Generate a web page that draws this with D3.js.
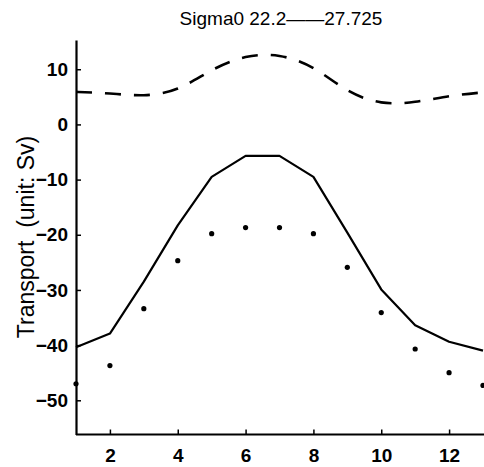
<!DOCTYPE html>
<html>
<head>
<meta charset="utf-8">
<script src="https://cdn.jsdelivr.net/npm/d3@7"></script>
<style>
  body { margin: 0; background: #fff; }
  svg { display: block; font-family: "Liberation Sans", Arial, sans-serif; }
</style>
</head>
<body>
<div id="chart"></div>
<script>
const months = [1, 2, 3, 4, 5, 6, 7, 8, 9, 10, 11, 12, 13];
const solidValues = [-40.4, -37.9, -28.5, -18.3, -9.5, -5.7, -5.7, -9.5, -19.6, -29.9, -36.4, -39.4, -41.0];
const dotValues = [-47.0, -43.7, -33.4, -24.7, -19.8, -18.7, -18.7, -19.8, -25.9, -34.1, -40.7, -45.0, -47.3];
const dashedValues = [5.9, 5.6, 5.3, 6.5, 9.8, 12.2, 12.4, 10.2, 6.2, 4.0, 4.1, 5.1, 5.8];
const xTicks = [2, 4, 6, 8, 10, 12];
const yTicks = [10, 0, -10, -20, -30, -40, -50];

const width = 484,
  height = 467;

const x = d3.scaleLinear().domain([1, 13]).range([76, 483]);
const y = d3.scaleLinear().domain([-56.2, 15.3]).range([434.5, 40]);

const svg = d3
  .select("#chart")
  .append("svg")
  .attr("width", width)
  .attr("height", height);

// title
svg
  .append("text")
  .attr("x", 281)
  .attr("y", 24.5)
  .attr("text-anchor", "middle")
  .attr("font-size", 19)
  .text("Sigma0 22.2\u2014\u201427.725");

// y label
svg
  .append("text")
  .attr("transform", "translate(34,237) rotate(-90)")
  .attr("text-anchor", "middle")
  .attr("font-size", 23)
  .attr("xml:space", "preserve")
  .text("Transport  (unit: Sv)");

// axes, ticks pointing inward
const yAxis = svg
  .append("g")
  .attr("transform", `translate(${x(1)},0)`)
  .call(
    d3.axisLeft(y).tickValues(yTicks).tickSizeInner(-5).tickSizeOuter(0).tickPadding(8)
  );

const xAxis = svg
  .append("g")
  .attr("transform", `translate(0,${y.range()[0]})`)
  .call(
    d3.axisBottom(x).tickValues(xTicks).tickSizeInner(-5).tickSizeOuter(0).tickPadding(14)
  );

xAxis.select(".domain").attr("d", `M${x(1)},0H${width}`);

[xAxis, yAxis].forEach((g) => {
  g.attr("font-family", null).attr("font-size", 19).attr("font-weight", "bold");
  g.select(".domain").attr("stroke", "#000").attr("stroke-width", 2.2);
  g.selectAll(".tick line").attr("stroke", "#000").attr("stroke-width", 1.5);
  g.selectAll(".tick text").attr("fill", "#000");
});

// dashed curve
const dashedLine = d3
  .line()
  .x((d, i) => x(months[i]))
  .y((d) => y(d))
  .curve(d3.curveNatural);

svg
  .append("path")
  .datum(dashedValues)
  .attr("d", dashedLine)
  .attr("fill", "none")
  .attr("stroke", "#000")
  .attr("stroke-width", 2.6)
  .attr("stroke-dasharray", "16,13");

// solid line
const solidLine = d3
  .line()
  .x((d, i) => x(months[i]))
  .y((d) => y(d));

svg
  .append("path")
  .datum(solidValues)
  .attr("d", solidLine)
  .attr("fill", "none")
  .attr("stroke", "#000")
  .attr("stroke-width", 2.2)
  .attr("stroke-linejoin", "round");

// dots
svg
  .append("g")
  .selectAll("circle")
  .data(dotValues)
  .enter()
  .append("circle")
  .attr("cx", (d, i) => x(months[i]))
  .attr("cy", (d) => y(d))
  .attr("r", 2.6)
  .attr("fill", "#000");
</script>
</body>
</html>
